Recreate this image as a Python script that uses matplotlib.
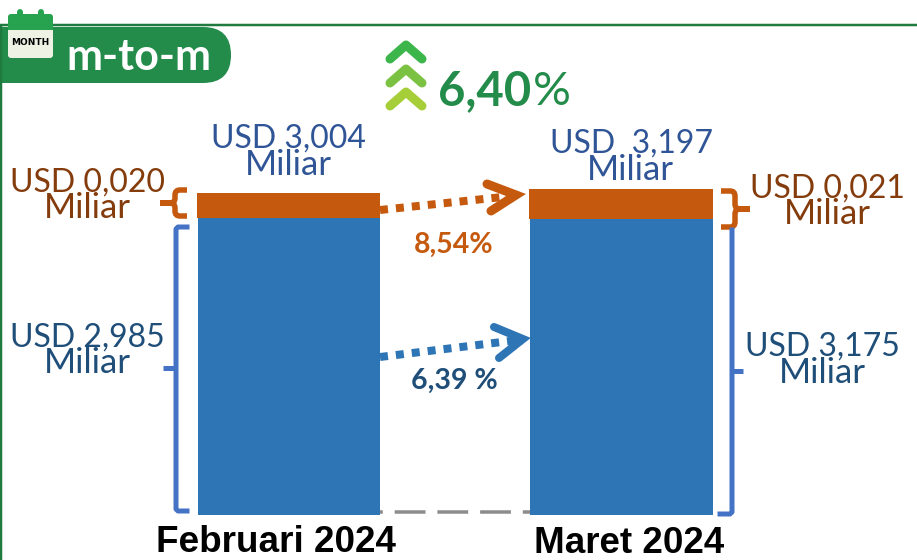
import matplotlib
matplotlib.use('Agg')
import matplotlib.pyplot as plt
from matplotlib.patches import FancyBboxPatch, Rectangle, PathPatch
from matplotlib.path import Path

# bar heights as drawn in the picture (not to scale with the labels)
months = ['Februari 2024', 'Maret 2024']
blue_height = [297, 296]
orange_height = [25, 30]
top_labels = ['USD 3,004', 'USD  3,197']
orange_labels = ['USD 0,020', 'USD 0,021']
blue_labels = ['USD 2,985', 'USD 3,175']
orange_growth = '8,54%'
blue_growth = '6,39 %'
total_growth = '6,40'

GREEN = '#238c4a'
BAR_BLUE = '#2e75b6'
BAR_ORANGE = '#c55a0f'
BRACE_BLUE = '#4472c4'
BROWN = '#843c0c'
TOP_BLUE = '#2f5597'
DARK_BLUE = '#1f4e79'

fig = plt.figure(figsize=(9.17, 5.60), dpi=100)
ax = fig.add_axes([0, 0, 1, 1])
ax.set_xlim(0, 917)
ax.set_ylim(-45, 515)  # baseline of the bars is y=0
ax.axis('off')


def Y(py):
    # pixel row of the picture to data y
    return 515 - py


def px(n):
    return n * 0.72


def label(x, py, s, color, size=23, weight='normal', family='Lato'):
    ax.text(x, Y(py), s, color=color, fontsize=size, fontweight=weight, family=family,
            ha='center', va='baseline')


def line(xs, pys, color, w, **kw):
    ax.plot(xs, [Y(p) for p in pys], color=color, lw=px(w), **kw)


def brace(x_end, x_mid, x_tip, y_top, y_tick, y_bot, color, w, r):
    # curly bracket, r is the size of the rounded corners
    d = 1 if x_end > x_mid else -1
    t = -d
    pts = [(x_end, y_top), (x_mid + d * r, y_top), (x_mid, y_top), (x_mid, y_top + r),
           (x_mid, y_tick - r), (x_mid, y_tick), (x_mid + t * r, y_tick), (x_tip, y_tick),
           (x_mid + t * r, y_tick), (x_mid, y_tick), (x_mid, y_tick + r),
           (x_mid, y_bot - r), (x_mid, y_bot), (x_mid + d * r, y_bot), (x_end, y_bot)]
    codes = [Path.MOVETO, Path.LINETO, Path.CURVE3, Path.CURVE3,
             Path.LINETO, Path.CURVE3, Path.CURVE3, Path.LINETO,
             Path.LINETO, Path.CURVE3, Path.CURVE3,
             Path.LINETO, Path.CURVE3, Path.CURVE3, Path.LINETO]
    verts = [(x, Y(p)) for x, p in pts]
    ax.add_patch(PathPatch(Path(verts, codes), fc='none', ec=color, lw=px(w), capstyle='butt'))


# frame and tab
line([0, 917], [25, 25], '#1f7a3f', 2.5, solid_capstyle='butt')
line([1, 1], [25, 560], '#1f7a3f', 2.5, solid_capstyle='butt')
ax.add_patch(FancyBboxPatch((-40, Y(83)), 271, 56, boxstyle='round,pad=0,rounding_size=28',
                            fc=GREEN, ec='none'))
ax.text(139, Y(70), 'm-to-m', color='white', fontsize=31, fontweight='bold', family='Lato',
        ha='center', va='baseline')

# calendar icon
ax.add_patch(FancyBboxPatch((8, Y(58)), 45, 44, boxstyle='round,pad=0,rounding_size=3',
                            fc='#eef2e4', ec='none', zorder=3))
ax.add_patch(FancyBboxPatch((8, Y(30)), 45, 16, boxstyle='round,pad=0,rounding_size=3',
                            fc='#27a350', ec='none', zorder=3))
ax.add_patch(Rectangle((8, Y(30)), 45, 5, fc='#27a350', ec='none', zorder=3))
line([20, 20], [12, 16], '#27a350', 6, solid_capstyle='round', zorder=3)
line([41, 41], [12, 16], '#27a350', 6, solid_capstyle='round', zorder=3)
ax.text(30.5, Y(45), 'MONTH', color='black', fontsize=6.5, fontweight='bold',
        family='DejaVu Sans', ha='center', va='baseline', zorder=4)

# chevrons
for top, c in zip([39, 63, 86], ['#3cb54a', '#7cc242', '#a6ce39']):
    line([390, 406, 422], [top + 20, top + 6, top + 20], c, 9,
         solid_capstyle='round', solid_joinstyle='round')
ax.text(485, Y(105), total_growth, color=GREEN, fontsize=34, fontweight='bold', family='Lato',
        ha='center', va='baseline')
ax.text(552, Y(105), '%', color=GREEN, fontsize=34, family='Lato', ha='center', va='baseline')

# bars
ax.bar([289, 621.5], blue_height, width=182.5, color=BAR_BLUE, zorder=2)
ax.bar([288.5, 621], orange_height, width=183.5, bottom=blue_height, color=BAR_ORANGE, zorder=2)

# dashed baseline
line([380, 530], [512, 512], '#8c8c8c', 3.5, linestyle=(8, (8.8, 3.4)), zorder=1)

# braces
brace(187, 175, 160, 190, 203, 216, BAR_ORANGE, 5.5, 5)
brace(721, 735, 750, 191, 209, 227, BAR_ORANGE, 5.5, 5)
line([187, 178, 176, 176, 178, 187], [227, 227, 229, 509, 511, 511], BRACE_BLUE, 5, solid_joinstyle='round')
line([163, 176], [368, 368], BRACE_BLUE, 5, solid_capstyle='butt')
line([732, 732, 730, 720], [230, 512, 514, 514], BRACE_BLUE, 5, solid_joinstyle='round')
line([732, 743], [371, 371], BRACE_BLUE, 5, solid_capstyle='butt')

# growth arrows
line([380, 512], [210, 196], BAR_ORANGE, 8, linestyle=(0, (1, 1)), zorder=1)
line([487, 516, 491], [184, 195, 211], BAR_ORANGE, 9, solid_capstyle='round', solid_joinstyle='miter')
line([380, 518], [357, 340], BAR_BLUE, 8, linestyle=(0, (1, 1)), zorder=1)
line([494, 523, 499], [327, 339, 358], BAR_BLUE, 8, solid_capstyle='round', solid_joinstyle='miter')

# text labels
label(288, 148, top_labels[0], TOP_BLUE)
label(288, 175, 'Miliar', TOP_BLUE, size=25)
label(631, 153, top_labels[1], TOP_BLUE)
label(630, 180, 'Miliar', TOP_BLUE, size=25)
label(87, 192, orange_labels[0], BROWN)
label(87, 218, 'Miliar', BROWN, size=25)
label(827, 198, orange_labels[1], BROWN)
label(827, 224, 'Miliar', BROWN, size=25)
label(87, 347, blue_labels[0], DARK_BLUE)
label(87, 373, 'Miliar', DARK_BLUE, size=25)
label(822, 356, blue_labels[1], DARK_BLUE)
label(822, 383, 'Miliar', DARK_BLUE, size=25)
label(454, 253, orange_growth, BAR_ORANGE, size=20.5, weight='bold')
label(454, 389, blue_growth, DARK_BLUE, size=20.5, weight='bold')

label(275.5, 552, months[0], 'black', size=26.6, weight='bold', family='Liberation Sans')
label(629, 553, months[1], 'black', size=26.5, weight='bold', family='Liberation Sans')

fig.savefig('out.png', dpi=100)
